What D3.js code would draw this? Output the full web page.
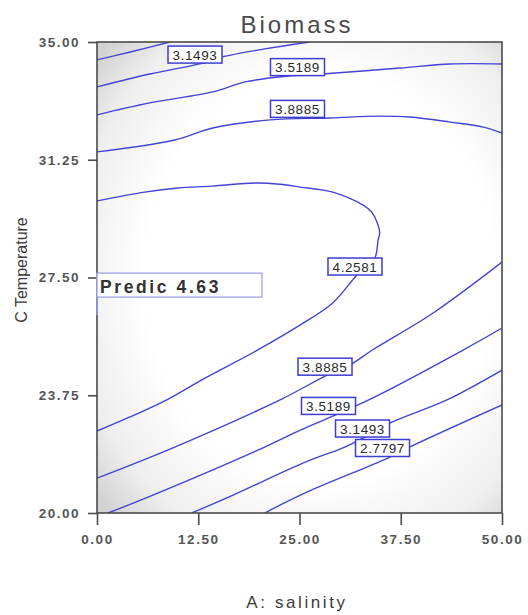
<!DOCTYPE html>
<html>
<head>
<meta charset="utf-8">
<script src="https://cdn.jsdelivr.net/npm/d3@7"></script>
<style>
  body { margin: 0; background: #fff; }
  svg text { font-family: "Liberation Sans", Arial, sans-serif; }
</style>
</head>
<body>
<svg id="chart" width="528" height="615"></svg>
<script>
// Axis ticks
const salinityTicks = [0, 12.5, 25, 37.5, 50];
const temperatureTicks = [20, 23.75, 27.5, 31.25, 35];

// Contour levels of predicted biomass
const levels = [2.7797, 3.1493, 3.5189, 3.8885, 4.2581];

// Contour traces as [salinity, temperature] pairs
const traceUpper27797 = [[0, 34.43], [4.1, 34.68], [9.0, 35.0]];
const traceUpper31493 = [[0, 33.57], [6.5, 33.98], [13.6, 34.36], [15.4, 34.52], [20.7, 34.78], [26.3, 35.0]];
const traceUpper35189 = [[0, 32.68], [6.5, 33.06], [14.3, 33.41], [18.3, 33.73], [23.8, 33.92], [28.2, 33.99], [37.4, 34.17], [43.6, 34.30], [50, 34.30]];
const traceUpper38885 = [[0, 31.50], [9.6, 31.88], [14.3, 32.26], [21.4, 32.52], [28.8, 32.58], [34.6, 32.64], [38.6, 32.61], [43.6, 32.45], [47.7, 32.29], [50, 32.10]];
const trace42581 = [[0, 29.94], [5.9, 30.22], [10.0, 30.35], [14.2, 30.41], [19.5, 30.51], [22.6, 30.47], [25.1, 30.38], [29.1, 30.22], [32.8, 29.81], [34.0, 29.55], [34.9, 28.95], [34.7, 28.69], [34.3, 28.12], [32.1, 27.58], [29.1, 26.69], [25.1, 25.99], [19.9, 25.20], [13.0, 24.25], [8.8, 23.63], [4.0, 23.05], [0, 22.61]];
const traceLower38885 = [[0, 21.11], [9.6, 22.10], [22.8, 23.63], [28.4, 24.39], [31.2, 24.71], [34.0, 25.19], [41.5, 26.37], [50, 27.99]];
const traceLower35189 = [[1.36, 20.0], [6.9, 20.57], [20.7, 22.10], [25.1, 22.64], [29.4, 23.12], [34.0, 23.66], [45.2, 25.19], [50, 25.89]];
const traceLower31493 = [[11.7, 20.0], [16.8, 20.57], [25.7, 21.62], [30.6, 22.10], [33.1, 22.42], [36.2, 22.87], [43.2, 23.60], [50, 24.55]];
const traceLower27797 = [[20.7, 20.0], [25.7, 20.64], [35.9, 21.75], [38.6, 22.10], [50, 23.44]];

const traces = [traceUpper27797, traceUpper31493, traceUpper35189, traceUpper38885, trace42581,
                traceLower38885, traceLower35189, traceLower31493, traceLower27797];

// Contour label anchors
const labelSalinity = [12.1, 24.75, 24.75, 31.85, 28.15, 28.58, 32.78, 35.25];
const labelTemperature = [34.60, 34.20, 32.87, 27.85, 24.66, 23.41, 22.69, 22.07];
const labelLevel = [3.1493, 3.5189, 3.8885, 4.2581, 3.8885, 3.5189, 3.1493, 2.7797];

// Prediction flag
const flagSalinity = [0];
const flagTemperature = [27.64];
const flagValue = [4.63];

const svg = d3.select("#chart");
const x = d3.scaleLinear().domain([0, 50]).range([97, 502]);
const y = d3.scaleLinear().domain([20, 35]).range([513, 42]);

const defs = svg.append("defs");
const grad = defs.append("radialGradient").attr("id", "shade")
  .attr("cx", "55%").attr("cy", "50%").attr("r", "72%");
grad.append("stop").attr("offset", "0").attr("stop-color", "#ffffff");
grad.append("stop").attr("offset", "0.6").attr("stop-color", "#ffffff");
grad.append("stop").attr("offset", "0.85").attr("stop-color", "#eeeeee");
grad.append("stop").attr("offset", "1").attr("stop-color", "#d2d2d2");
defs.append("clipPath").attr("id", "plotClip").append("rect")
  .attr("x", x(0)).attr("y", y(35)).attr("width", x(50) - x(0)).attr("height", y(20) - y(35));

// Plot background
svg.append("rect")
  .attr("x", x(0)).attr("y", y(35))
  .attr("width", x(50) - x(0)).attr("height", y(20) - y(35))
  .attr("fill", "url(#shade)");

// Contour lines
const line = d3.line().x(d => x(d[0])).y(d => y(d[1])).curve(d3.curveCatmullRom.alpha(0.5));
svg.append("g").attr("clip-path", "url(#plotClip)")
  .selectAll("path").data(traces).join("path")
  .attr("d", line)
  .attr("fill", "none")
  .attr("stroke", "#4343d6")
  .attr("stroke-width", 1.4);

// Frame
svg.append("rect")
  .attr("x", x(0)).attr("y", y(35))
  .attr("width", x(50) - x(0)).attr("height", y(20) - y(35))
  .attr("fill", "none").attr("stroke", "#4a4a4a").attr("stroke-width", 1.6);

// Axes
const xAxis = svg.append("g").attr("transform", `translate(0,${y(20)})`)
  .call(d3.axisBottom(x).tickValues(salinityTicks).tickFormat(d3.format(".2f")).tickSize(12).tickPadding(9));
const yAxis = svg.append("g").attr("transform", `translate(${x(0)},0)`)
  .call(d3.axisLeft(y).tickValues(temperatureTicks).tickFormat(d3.format(".2f")).tickSize(9).tickPadding(8));
[xAxis, yAxis].forEach(g => {
  g.select(".domain").remove();
  g.selectAll(".tick line").attr("stroke", "#4a4a4a").attr("stroke-width", 1.6);
  g.selectAll(".tick text").attr("fill", "#555").attr("font-size", 13.5)
    .attr("letter-spacing", "1.5px").attr("font-weight", "bold")
    .style("font-family", "'Liberation Sans', Arial, sans-serif");
});

// Contour labels
const lab = svg.append("g").selectAll("g").data(labelLevel).join("g")
  .attr("transform", (d, i) => `translate(${x(labelSalinity[i])},${y(labelTemperature[i])})`);
lab.append("rect")
  .attr("x", -27).attr("y", -8.5).attr("width", 54).attr("height", 17)
  .attr("fill", "#fff").attr("stroke", "#3c3cd2").attr("stroke-width", 1.5);
lab.append("text")
  .attr("text-anchor", "middle").attr("y", 5)
  .attr("font-size", 13.5).attr("letter-spacing", "0.6px").attr("fill", "#2a2a2a")
  .text(d => d3.format(".4f")(d));

// Prediction flag
const flag = svg.append("g").selectAll("g").data(flagValue).join("g")
  .attr("transform", (d, i) => `translate(${x(flagSalinity[i])},${y(flagTemperature[i])})`);
flag.append("line").attr("x1", 0).attr("x2", 0).attr("y1", 0).attr("y2", 42)
  .attr("stroke", "#9a9ae6").attr("stroke-width", 1.6);
flag.append("rect").attr("x", 0).attr("y", 0).attr("width", 165).attr("height", 24)
  .attr("fill", "#fff").attr("stroke", "#9a9ae6").attr("stroke-width", 1.2);
flag.append("text").attr("x", 3).attr("y", 20)
  .attr("font-size", 17.5).attr("letter-spacing", "2.6px").attr("fill", "#333")
  .attr("font-weight", "bold")
  .text(d => "Predic " + d3.format(".2f")(d));

// Titles
svg.append("text").attr("x", 297).attr("y", 33).attr("text-anchor", "middle")
  .attr("font-size", 24).attr("letter-spacing", "3px").attr("fill", "#4a4a4a")
  .text("Biomass");
svg.append("text").attr("x", 297).attr("y", 608).attr("text-anchor", "middle")
  .attr("font-size", 17).attr("letter-spacing", "2.6px").attr("fill", "#3a3a3a")
  .text("A: salinity");
svg.append("text").attr("transform", "translate(27,270) rotate(-90)").attr("text-anchor", "middle")
  .attr("font-size", 16).attr("fill", "#3a3a3a")
  .text("C Temperature");
</script>
</body>
</html>
